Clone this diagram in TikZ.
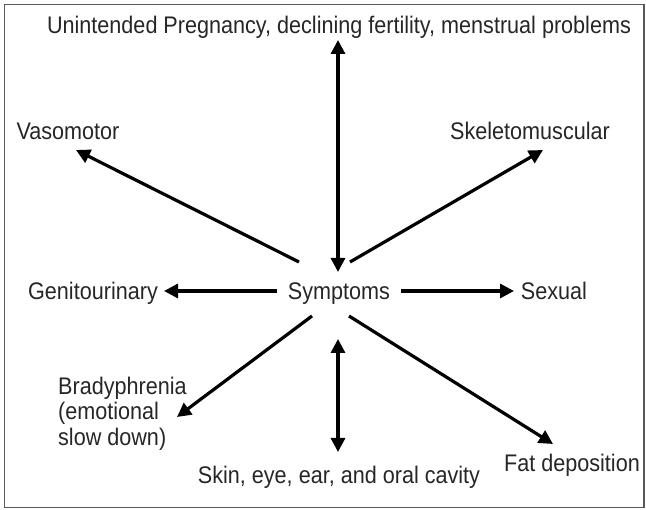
\documentclass[tikz,border=0pt]{standalone}
\usepackage{fontspec}
\setmainfont[FakeStretch=0.9]{Liberation Sans}
\usetikzlibrary{arrows.meta}
\begin{document}
\begin{tikzpicture}[x=1pt,y=-1pt,
  lbl/.style={inner sep=0pt,anchor=base,text=black!85,font=\fontsize{24}{25.5}\selectfont},
  arr/.style={line width=3.2pt,-{Triangle[length=14pt,width=14pt]}},
  darr/.style={line width=3.2pt,{Triangle[length=14pt,width=14pt]}-{Triangle[length=14pt,width=14pt]}}]
\useasboundingbox (0,0) rectangle (646,510);
\draw[black!65,line width=1.2pt] (4.5,4.5) rectangle (644,507.5);
% labels
\node[lbl] (top) at (339,33.5) {Unintended Pregnancy, declining fertility, menstrual problems};
\node[lbl] (vaso) at (68,139.5) {Vasomotor};
\node[lbl] (skel) at (530,139.5) {Skeletomuscular};
\node[lbl] (geni) at (93,299.5) {Genitourinary};
\node[lbl] (sym) at (339,299.5) {Symptoms};
\node[lbl] (sex) at (554,299.5) {Sexual};
\node[lbl,anchor=base west,align=left] (brady) at (58,445.5) {Bradyphrenia\\(emotional\\slow down)};
\node[lbl] (skin) at (339,483.5) {Skin, eye, ear, and oral cavity};
\node[lbl] (fat) at (572,471.5) {Fat deposition};
% connector end points
\coordinate (sN) at (338,272);
\coordinate (tN) at (338,40);
\coordinate (sNW) at (299,262);
\coordinate (tNW) at (76,150);
\coordinate (sNE) at (350,262);
\coordinate (tNE) at (543,150);
\coordinate (sW) at (277,291);
\coordinate (tW) at (164,291);
\coordinate (sE) at (401,291);
\coordinate (tE) at (514,291);
\coordinate (sSW) at (312,316);
\coordinate (tSW) at (177,417);
\coordinate (sS) at (338,339);
\coordinate (tS) at (338,452);
\coordinate (sSE) at (349,316);
\coordinate (tSE) at (553,444);
% connectors
\draw[darr] (sN) -- (tN);
\draw[arr] (sNW) -- (tNW);
\draw[arr] (sNE) -- (tNE);
\draw[arr] (sW) -- (tW);
\draw[arr] (sE) -- (tE);
\draw[arr] (sSW) -- (tSW);
\draw[darr] (sS) -- (tS);
\draw[arr] (sSE) -- (tSE);
\end{tikzpicture}
\end{document}
